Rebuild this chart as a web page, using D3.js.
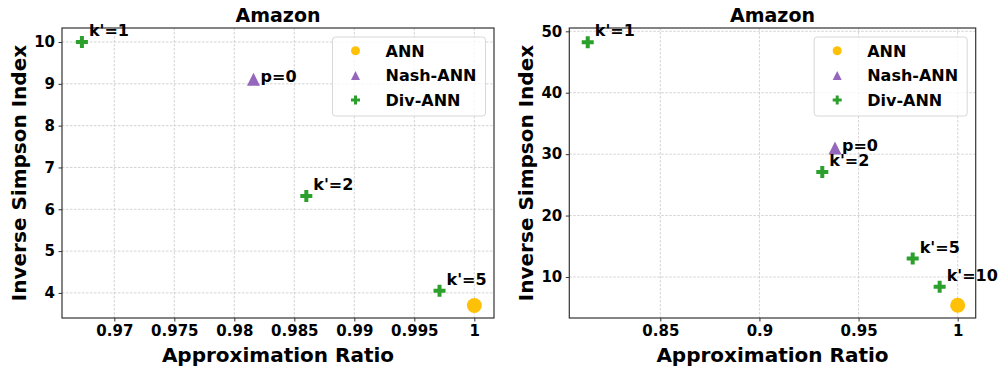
<!DOCTYPE html>
<html>
<head>
<meta charset="utf-8">
<script src="https://cdn.jsdelivr.net/npm/d3@7"></script>
<style>
  body { margin:0; background:#fff; }
  svg text { font-family:"DejaVu Sans", sans-serif; font-weight:bold; fill:#000; }
  .grid line { stroke:#c8c8c8; stroke-dasharray:2.5,1.5; stroke-width:0.8; }
  .axis path { display:none; }
  .axis line { stroke:#333; stroke-width:1; }
  .axis text { font-size:15px; }
</style>
</head>
<body>
<svg id="chart" width="1004" height="368"></svg>
<script>
var seriesNames = ["ANN", "Nash-ANN", "Div-ANN"];
var seriesColors = ["#FFC107", "#9467bd", "#2ca02c"];

// left panel
var leftTitle = "Amazon";
var leftXDomain = [0.96564, 1.00164];
var leftYDomain = [3.40, 10.335];
var leftXTicks = [0.97, 0.975, 0.98, 0.985, 0.99, 0.995, 1];
var leftYTicks = [4, 5, 6, 7, 8, 9, 10];
var leftAnnX = [1.0], leftAnnY = [3.70];
var leftNashX = [0.9816], leftNashY = [9.11], leftNashLabels = ["p=0"];
var leftDivX = [0.9673, 0.9860, 0.9971];
var leftDivY = [10.0, 6.32, 4.05];
var leftDivLabels = ["k'=1", "k'=2", "k'=5"];

// right panel
var rightTitle = "Amazon";
var rightXDomain = [0.8041, 1.00908];
var rightYDomain = [3.32, 50.54];
var rightXTicks = [0.85, 0.9, 0.95, 1];
var rightYTicks = [10, 20, 30, 40, 50];
var rightAnnX = [1.0], rightAnnY = [5.4];
var rightNashX = [0.9381], rightNashY = [31.0], rightNashLabels = ["p=0"];
var rightDivX = [0.8134, 0.9317, 0.9773, 0.9909];
var rightDivY = [48.2, 27.1, 13.0, 8.42];
var rightDivLabels = ["k'=1", "k'=2", "k'=5", "k'=10"];

var svg = d3.select("#chart");

function plusPath(s){
  var a = s/2, b = s/6;
  return "M"+(-b)+","+(-a)+"H"+b+"V"+(-b)+"H"+a+"V"+b+"H"+b+"V"+a+"H"+(-b)+"V"+b+"H"+(-a)+"V"+(-b)+"H"+(-b)+"Z";
}
function triPath(s){
  var a = s/2;
  return "M0,"+(-a)+"L"+a+","+a+"L"+(-a)+","+a+"Z";
}
function drawMarker(g, kind, x, y, s){
  if(kind === 0){
    g.append("circle").attr("cx", x).attr("cy", y).attr("r", s/2).attr("fill", seriesColors[0]);
  } else if(kind === 1){
    g.append("path").attr("d", triPath(s)).attr("transform", "translate("+x+","+y+")").attr("fill", seriesColors[1]);
  } else {
    g.append("path").attr("d", plusPath(s)).attr("transform", "translate("+x+","+y+")").attr("fill", seriesColors[2]);
  }
}

function drawPanel(p){
  var m = p.box;
  var x = d3.scaleLinear().domain(p.xDomain).range([m.x0, m.x1]);
  var y = d3.scaleLinear().domain(p.yDomain).range([m.y1, m.y0]);
  var g = svg.append("g");
  var fmt = d3.format("~g");

  g.append("g").attr("class", "grid")
    .selectAll("line.v").data(p.xTicks).enter().append("line")
    .attr("x1", function(d){return x(d)}).attr("x2", function(d){return x(d)})
    .attr("y1", m.y0).attr("y2", m.y1);
  g.append("g").attr("class", "grid")
    .selectAll("line.h").data(p.yTicks).enter().append("line")
    .attr("y1", function(d){return y(d)}).attr("y2", function(d){return y(d)})
    .attr("x1", m.x0).attr("x2", m.x1);

  g.append("g").attr("class", "axis").attr("transform", "translate(0,"+m.y1+")")
    .call(d3.axisBottom(x).tickValues(p.xTicks).tickFormat(fmt).tickSize(3.5).tickPadding(3.5));
  g.append("g").attr("class", "axis").attr("transform", "translate("+m.x0+",0)")
    .call(d3.axisLeft(y).tickValues(p.yTicks).tickFormat(fmt).tickSize(3.5).tickPadding(3.5));

  g.append("rect").attr("x", m.x0).attr("y", m.y0)
    .attr("width", m.x1-m.x0).attr("height", m.y1-m.y0)
    .attr("fill", "none").attr("stroke", "#333").attr("stroke-width", 1.2);

  g.append("text").attr("x", (m.x0+m.x1)/2).attr("y", 22).attr("text-anchor", "middle")
    .style("font-size", "19px").text(p.title);
  g.append("text").attr("x", (m.x0+m.x1)/2).attr("y", 362).attr("text-anchor", "middle")
    .style("font-size", "20px").text("Approximation Ratio");
  g.append("text").attr("transform", "translate("+p.yLabelX+","+((m.y0+m.y1)/2)+") rotate(-90)")
    .attr("text-anchor", "middle").style("font-size", "20px").text("Inverse Simpson Index");

  // points
  p.annX.forEach(function(v, i){ drawMarker(g, 0, x(v), y(p.annY[i]), 15); });
  p.nashX.forEach(function(v, i){
    drawMarker(g, 1, x(v), y(p.nashY[i]), 13);
    g.append("text").attr("x", x(v)+7).attr("y", y(p.nashY[i])+3)
      .style("font-size", "16px").text(p.nashLabels[i]);
  });
  p.divX.forEach(function(v, i){
    drawMarker(g, 2, x(v), y(p.divY[i]), 12);
    g.append("text").attr("x", x(v)+7).attr("y", y(p.divY[i])-6)
      .style("font-size", "16px").text(p.divLabels[i]);
  });

  // legend
  var lx = m.x1 - 8.5 - 153, ly = m.y0 + 9;
  var lg = g.append("g");
  lg.append("rect").attr("x", lx).attr("y", ly).attr("width", 153).attr("height", 79)
    .attr("rx", 3).attr("fill", "#fff").attr("fill-opacity", 0.8)
    .attr("stroke", "#d8d8d8").attr("stroke-width", 1);
  seriesNames.forEach(function(name, i){
    var cy = ly + 13.7 + i*24.7;
    drawMarker(lg, i, lx + 23, cy, 9);
    lg.append("text").attr("x", lx + 53).attr("y", cy + 6)
      .style("font-size", "16px").text(name);
  });
}

drawPanel({
  title:leftTitle, box:{x0:62, x1:494, y0:28, y1:318}, yLabelX:26,
  xDomain:leftXDomain, yDomain:leftYDomain, xTicks:leftXTicks, yTicks:leftYTicks,
  annX:leftAnnX, annY:leftAnnY, nashX:leftNashX, nashY:leftNashY, nashLabels:leftNashLabels,
  divX:leftDivX, divY:leftDivY, divLabels:leftDivLabels
});
drawPanel({
  title:rightTitle, box:{x0:569.3, x1:975.7, y0:28, y1:318}, yLabelX:533,
  xDomain:rightXDomain, yDomain:rightYDomain, xTicks:rightXTicks, yTicks:rightYTicks,
  annX:rightAnnX, annY:rightAnnY, nashX:rightNashX, nashY:rightNashY, nashLabels:rightNashLabels,
  divX:rightDivX, divY:rightDivY, divLabels:rightDivLabels
});
</script>
</body>
</html>
